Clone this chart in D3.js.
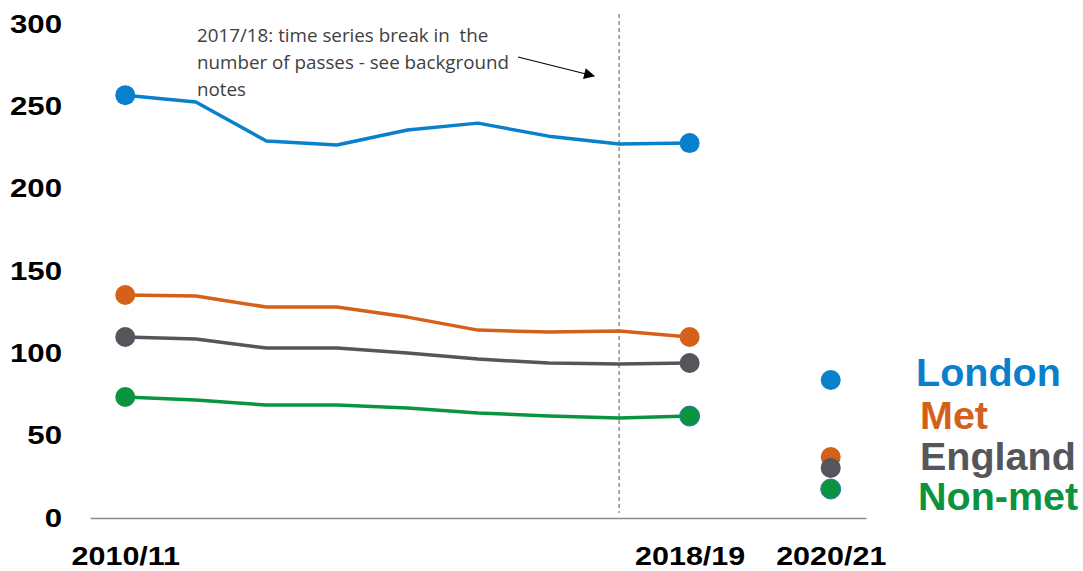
<!DOCTYPE html>
<html lang="en">
<head>
<meta charset="utf-8">
<title>Passes per 1,000</title>
<script src="https://cdn.jsdelivr.net/npm/d3@7"></script>
<style>
  body { margin: 0; background: #fff; }
  .tick-lab { font-family: "Liberation Sans", Arial, sans-serif; font-weight: bold; font-size: 26px; fill: #000; }
  .x-lab { font-size: 25px; }
  .note { font-family: "Open Sans", sans-serif; font-size: 18.8px; fill: #404040; white-space: pre; }
  .legend text { font-family: "Liberation Sans", Arial, sans-serif; font-weight: bold; font-size: 39.5px; }
</style>
</head>
<body>
<svg width="1083" height="571"></svg>
<script>
// ---- data ----
var years = ["2010/11","2011/12","2012/13","2013/14","2014/15","2015/16","2016/17","2017/18","2018/19","2019/20","2020/21"];
var lineYears = years.slice(0, 9);
var xLabels = ["2010/11","2018/19","2020/21"];
var yTicks = [0, 50, 100, 150, 200, 250, 300];

var london  = [256.8, 252.6, 228.9, 226.5, 235.6, 239.8, 231.9, 227.1, 227.7];
var met     = [135.4, 134.8, 128.1, 128.1, 122.0, 114.1, 113.0, 113.5, 109.9];
var england = [109.9, 108.7, 103.2, 103.2, 100.2, 96.5, 94.1, 93.5, 94.1];
var nonmet  = [73.5, 71.6, 68.6, 68.6, 66.8, 63.8, 61.9, 60.7, 61.9];

var latest = [83.8, 37.0, 30.4, 17.6];   // 2020/21, same order as names
var names  = ["London","Met","England","Non-met"];
var colors = ["#0a7fcc","#d4601a","#55565b","#0a9440"];

var breakYear = "2017/18";
var note = ["2017/18: time series break in  the", "number of passes - see background", "notes"];

// ---- scales ----
var svg = d3.select("svg");

var x = d3.scalePoint().domain(years).range([90, 866]).padding(0.5);
var y = d3.scaleLinear().domain([0, 300]).range([518, 24]);

// y axis labels only
var yAxis = svg.append("g")
  .attr("transform", "translate(62,0)")
  .call(d3.axisLeft(y).tickValues(yTicks).tickSize(0).tickPadding(0));
yAxis.select(".domain").remove();
yAxis.selectAll("text").attr("class", "tick-lab").attr("x", 0)
  .attr("transform", "scale(1.2,1)");

// x axis
var xAxis = svg.append("g")
  .attr("transform", "translate(0," + y(0) + ")")
  .call(d3.axisBottom(x).tickValues(xLabels).tickSize(0).tickSizeOuter(0));
xAxis.select(".domain").attr("stroke", "#8c8c8c").attr("stroke-width", 1.5);
xAxis.selectAll("text").attr("class", "tick-lab x-lab").attr("y", 47).attr("dy", 0)
  .attr("transform", "scale(1.22,1)");

// break marker
svg.append("line")
  .attr("x1", x(breakYear)).attr("x2", x(breakYear))
  .attr("y1", 14).attr("y2", 513)
  .attr("stroke", "#555").attr("stroke-width", 1)
  .attr("stroke-dasharray", "4,3");

svg.append("defs").append("marker")
  .attr("id", "arrow").attr("viewBox", "0 0 10 10")
  .attr("refX", 9).attr("refY", 5)
  .attr("markerWidth", 13).attr("markerHeight", 11)
  .attr("markerUnits", "userSpaceOnUse")
  .attr("orient", "auto")
  .append("path").attr("d", "M0,0L10,5L0,10z").attr("fill", "#000");

svg.append("line")
  .attr("x1", 518).attr("y1", 57).attr("x2", 594).attr("y2", 76)
  .attr("stroke", "#000").attr("stroke-width", 1.2)
  .attr("marker-end", "url(#arrow)");

svg.append("g").selectAll("text")
  .data(note).enter().append("text")
  .attr("class", "note")
  .attr("x", 197).attr("y", function(d, i) { return 42 + i * 27; })
  .text(function(d) { return d; });

// ---- series ----
var series = [london, met, england, nonmet];
var line = d3.line()
  .x(function(d, i) { return x(lineYears[i]); })
  .y(function(d) { return y(d); });

series.forEach(function(s, k) {
  svg.append("path")
    .attr("d", line(s))
    .attr("fill", "none")
    .attr("stroke", colors[k])
    .attr("stroke-width", 3.5)
    .attr("stroke-linejoin", "round");

  var ends = [[lineYears[0], s[0]], [lineYears[8], s[8]]];
  svg.append("g").selectAll("circle")
    .data(ends).enter().append("circle")
    .attr("cx", function(d) { return x(d[0]); })
    .attr("cy", function(d) { return y(d[1]); })
    .attr("r", 10)
    .attr("fill", colors[k])
    .attr("stroke", function(d, i) { return (k == 3 && i == 1) ? "#2e75b6" : "none"; })
    .attr("stroke-width", 1);
});

// 2020/21 points
svg.append("g").selectAll("circle")
  .data(latest).enter().append("circle")
  .attr("cx", x("2020/21"))
  .attr("cy", function(d) { return y(d); })
  .attr("r", 10)
  .attr("fill", function(d, i) { return colors[i]; })
  .attr("stroke", function(d, i) { return i == 3 ? "#2e75b6" : "none"; })
  .attr("stroke-width", 1);

// legend
var legY = [386, 429, 470, 510];
var legX = [916, 920, 920, 918];
svg.append("g").attr("class", "legend").selectAll("text")
  .data(names).enter().append("text")
  .attr("x", function(d, i) { return legX[i]; })
  .attr("y", function(d, i) { return legY[i]; })
  .attr("fill", function(d, i) { return colors[i]; })
  .text(function(d) { return d; });
</script>
</body>
</html>
